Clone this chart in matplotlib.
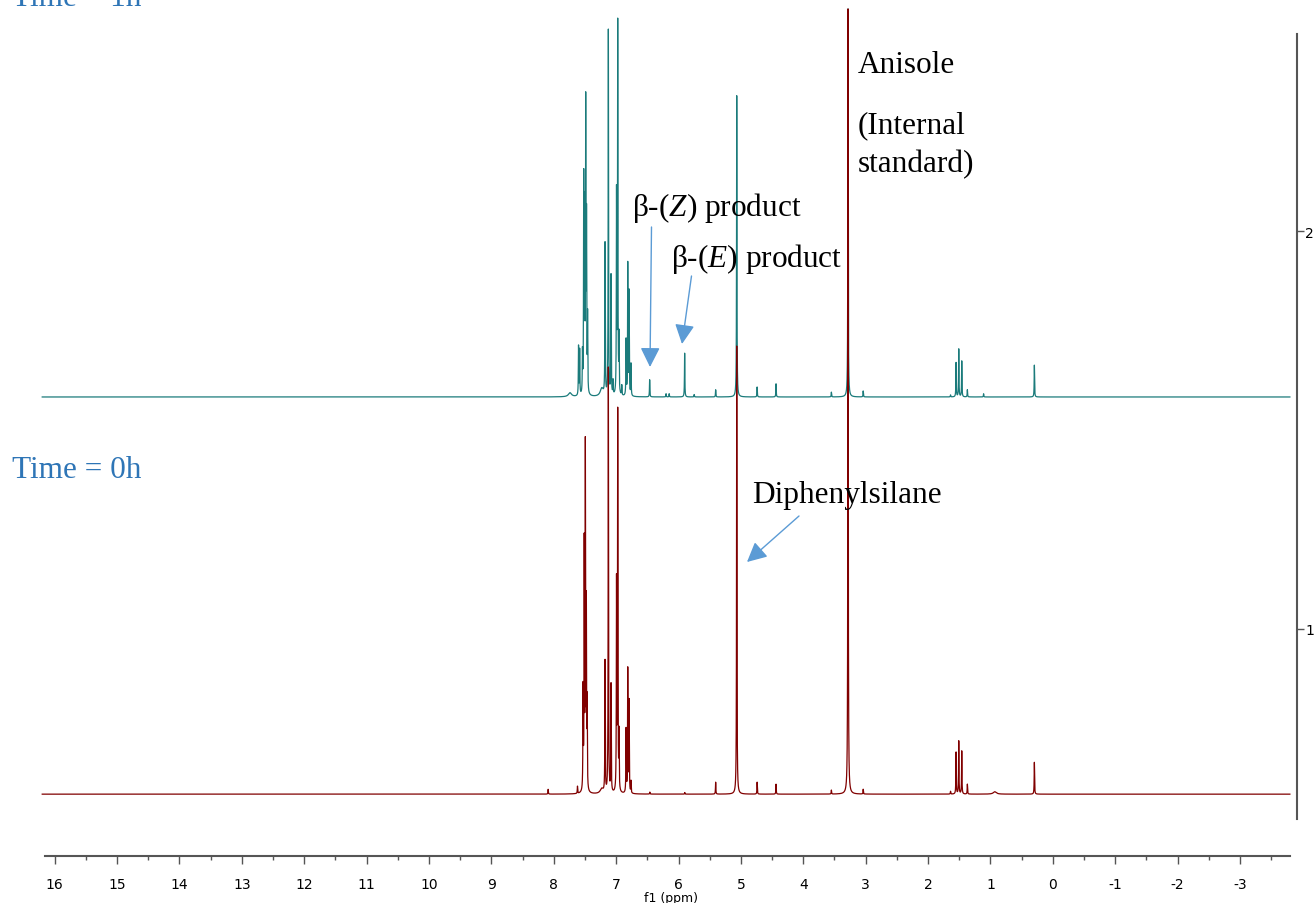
import numpy as np
import matplotlib
matplotlib.use('Agg')
import matplotlib.pyplot as plt

# 1H NMR stack: t = 0h (bottom) and t = 1h (top)
# peak lists: chemical shift (ppm) and height (stack units)
top_ppm = [7.603, 7.585, 7.540, 7.520, 7.505, 7.488, 7.475, 7.458,
           7.178, 7.125, 7.082, 7.050, 6.994, 6.975, 6.954, 6.910,
           6.841, 6.814, 6.793, 6.762, 6.463, 6.200, 6.150, 5.902, 5.750,
           5.405, 5.067, 4.740, 4.437, 3.550, 3.283, 3.040,
           1.640, 1.551, 1.508, 1.460, 1.370, 1.110, 0.296]
top_int = [0.123, 0.113, 0.100, 0.535, 0.450, 0.710, 0.420, 0.190,
           0.380, 0.918, 0.300, 0.035, 0.500, 0.930, 0.140, 0.025,
           0.140, 0.330, 0.260, 0.080, 0.043, 0.008, 0.008, 0.110, 0.006,
           0.018, 0.757, 0.025, 0.033, 0.012, 0.975, 0.015,
           0.005, 0.086, 0.120, 0.090, 0.018, 0.008, 0.080]

bot_ppm = [8.090, 7.620, 7.530, 7.512, 7.494, 7.478, 7.465,
           7.178, 7.125, 7.082, 6.994, 6.975, 6.954,
           6.841, 6.814, 6.793, 6.762, 6.460, 5.900,
           5.405, 5.067, 4.740, 4.437, 3.550, 3.283, 3.040,
           1.640, 1.551, 1.508, 1.460, 1.370, 0.296]
bot_int = [0.012, 0.018, 0.250, 0.610, 0.850, 0.450, 0.210,
           0.330, 1.068, 0.270, 0.520, 0.950, 0.140,
           0.160, 0.310, 0.230, 0.030, 0.005, 0.004,
           0.030, 1.126, 0.030, 0.025, 0.010, 1.973, 0.012,
           0.007, 0.105, 0.133, 0.108, 0.025, 0.080]

# broad baseline humps
top_hump_ppm = [7.74, 7.23]
top_hump_int = [0.010, 0.020]
bot_hump_ppm = [7.23, 0.93]
bot_hump_int = [0.012, 0.006]

top_offset = 1.583
bot_offset = 0.585

x_ticks = list(range(16, -4, -1))


def spectrum(x, shifts, heights, hwhm):
    y = np.zeros_like(x)
    for s, h in zip(shifts, heights):
        y += h * hwhm**2 / ((x - s)**2 + hwhm**2)
    return y


ppm = np.linspace(16.2, -3.8, 40001)
y_top = spectrum(ppm, top_ppm, top_int, 0.0035) + spectrum(ppm, top_hump_ppm, top_hump_int, 0.03)
y_bot = spectrum(ppm, bot_ppm, bot_int, 0.0035) + spectrum(ppm, bot_hump_ppm, bot_hump_int, 0.03)

plt.rcParams['mathtext.fontset'] = 'custom'
plt.rcParams['mathtext.rm'] = 'Liberation Serif'
plt.rcParams['mathtext.it'] = 'Liberation Serif:italic'

W, H = 1315, 904
fig = plt.figure(figsize=(W / 100, H / 100), dpi=100)
ax = fig.add_axes([45 / W, 47 / H, (1297 - 45) / W, 857 / H])

ax.plot(ppm, y_top + top_offset, color='#1B7B7B', lw=0.9, zorder=2, clip_on=False)
ax.plot(ppm, y_bot + bot_offset, color='#800000', lw=0.9, zorder=3, clip_on=False)

ax.set_xlim(16.1555, -3.914)
ax.set_ylim(0.4296, 2.583)

axis_col = '#555555'
for s in ['left', 'top']:
    ax.spines[s].set_visible(False)
ax.spines['bottom'].set_bounds(-3.80, 16.1555)
ax.spines['right'].set_bounds(0.5226, 2.495)
for s in ['bottom', 'right']:
    ax.spines[s].set_color(axis_col)
    ax.spines[s].set_linewidth(1.5)

ax.set_xticks(x_ticks)
ax.set_xticklabels([str(t) for t in x_ticks])
ax.set_xticks(np.arange(15.5, -4, -1), minor=True)
ax.tick_params(axis='x', which='major', direction='out', length=6, width=1,
               color=axis_col, pad=9, labelsize=10)
ax.tick_params(axis='x', which='minor', direction='out', length=3, width=1, color=axis_col)
ax.set_xlabel('f1 (ppm)', fontsize=9, labelpad=0)

ax.yaxis.tick_right()
ax.set_yticks([1, 2])
ax.set_yticklabels(['1', '2'])
ax.tick_params(axis='y', direction='out', length=5, width=1, color=axis_col,
               pad=1, labelsize=10)


def px(x, y):
    return (x, H - y)


serif = 'Liberation Serif'
blue_text = '#2E75B6'
arrow_col = '#5B9BD5'

fig.text(12 / W, 1 - 6 / H, 'Time = 1h', fontsize=22.5, family=serif,
         color=blue_text, va='baseline')
fig.text(12 / W, 1 - 478 / H, 'Time = 0h', fontsize=22.5, family=serif,
         color=blue_text, va='baseline')
fig.text(858 / W, 1 - 73 / H, 'Anisole', fontsize=22.5, family=serif, va='baseline')
fig.text(858 / W, 1 - 133 / H, '(Internal', fontsize=22.5, family=serif, va='baseline')
fig.text(858 / W, 1 - 172 / H, 'standard)', fontsize=22.5, family=serif, va='baseline')
fig.text(632 / W, 1 - 216 / H, r'β-($Z$) product', fontsize=22.5, family=serif, va='baseline')
fig.text(671 / W, 1 - 267 / H, r'β-($E$) product', fontsize=22.5, family=serif, va='baseline')
fig.text(752 / W, 1 - 503 / H, 'Diphenylsilane', fontsize=22.5, family=serif, va='baseline')

arrow = dict(arrowstyle='-|>,head_length=0.6,head_width=0.3', color=arrow_col,
             lw=1.0, mutation_scale=20, shrinkA=0, shrinkB=0)
for start, tip in [((651.5, 228), (650, 368)),
                   ((691.5, 277), (682, 345)),
                   ((799, 517), (747, 563))]:
    ax.annotate('', xy=px(*tip), xycoords='figure pixels',
                xytext=px(*start), textcoords='figure pixels', arrowprops=arrow)

fig.savefig('out.png', dpi=100)
